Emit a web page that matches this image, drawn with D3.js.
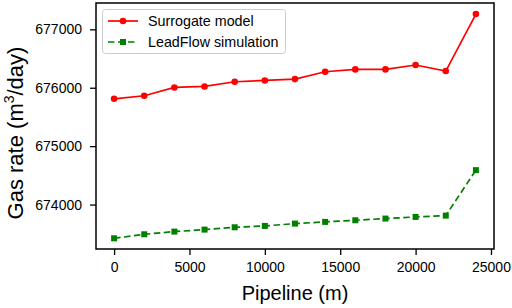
<!DOCTYPE html>
<html><head><meta charset="utf-8">
<script src="https://cdn.jsdelivr.net/npm/d3@7"></script>
<style>body{margin:0;background:#fff}svg{display:block}text{font-family:"Liberation Sans",Arial,sans-serif}</style>
</head><body><svg id="c" width="512" height="308"></svg>
<script>
const pipeline = [0,2000,4000,6000,8000,10000,12000,14000,16000,18000,20000,22000,24000];
const surrogate = [675811,675863,676005,676022,676103,676125,676148,676274,676314,676314,676389,676286,677262];
const leadflow = [673422,673491,673537,673571,673611,673634,673674,673703,673731,673760,673788,673811,674589];
const xTicks = [0,5000,10000,15000,20000,25000];
const yTicks = [674000,675000,676000,677000];
const seriesNames = ["Surrogate model","LeadFlow simulation"];

const svg = d3.select("#c");
const L=96, R=494, T=3, B=249;
const x = d3.scaleLinear().domain([-1200,25200]).range([L,R]);
const y = d3.scaleLinear().domain([673239,677451]).range([B,T]);

const xa = svg.append("g").attr("transform",`translate(0,${B})`)
  .call(d3.axisBottom(x).tickValues(xTicks).tickFormat(d3.format("d")).tickSize(6).tickPadding(7).tickSizeOuter(0));
const ya = svg.append("g").attr("transform",`translate(${L},0)`)
  .call(d3.axisLeft(y).tickValues(yTicks).tickFormat(d3.format("d")).tickSize(6).tickPadding(8).tickSizeOuter(0));
[xa,ya].forEach(a=>{a.select(".domain").remove();a.selectAll("line").attr("stroke","#000").attr("stroke-width",1.3);
  a.selectAll("text").attr("font-size",14).attr("fill","#000").attr("font-family","'Liberation Sans',Arial,sans-serif");});

svg.append("rect").attr("x",L).attr("y",T).attr("width",R-L).attr("height",B-T)
  .attr("fill","none").attr("stroke","#000").attr("stroke-width",1.5);

const line = d3.line().x((d,i)=>x(pipeline[i])).y(d=>y(d));
svg.append("path").datum(surrogate).attr("d",line).attr("fill","none").attr("stroke","#ff0000").attr("stroke-width",1.7);
svg.selectAll(".c1").data(surrogate).enter().append("circle")
  .attr("cx",(d,i)=>x(pipeline[i])).attr("cy",d=>y(d)).attr("r",3.3).attr("fill","#ff0000");
svg.append("path").datum(leadflow).attr("d",line).attr("fill","none").attr("stroke","#008000").attr("stroke-width",1.7).attr("stroke-dasharray","6.5,3.5");
svg.selectAll(".s1").data(leadflow).enter().append("rect")
  .attr("x",(d,i)=>x(pipeline[i])-3).attr("y",d=>y(d)-3).attr("width",6).attr("height",6).attr("fill","#008000");

// legend
const lg = svg.append("g");
lg.append("rect").attr("x",102.5).attr("y",9.5).attr("width",183).attr("height",44).attr("rx",3)
  .attr("fill","#fff").attr("fill-opacity",0.8).attr("stroke","#ccc").attr("stroke-width",1);
lg.append("line").attr("x1",108).attr("x2",138).attr("y1",21).attr("y2",21).attr("stroke","#ff0000").attr("stroke-width",1.7);
lg.append("circle").attr("cx",123).attr("cy",21).attr("r",3.3).attr("fill","#ff0000");
lg.append("line").attr("x1",108).attr("x2",138).attr("y1",42).attr("y2",42).attr("stroke","#008000").attr("stroke-width",1.7).attr("stroke-dasharray","6.5,3.5");
lg.append("rect").attr("x",120).attr("y",39).attr("width",6).attr("height",6).attr("fill","#008000");
seriesNames.forEach((n,i)=>lg.append("text").attr("x",148).attr("y",21+21*i).attr("dy","0.35em")
  .attr("font-size",14.3).attr("fill","#000").text(n));

// axis labels
svg.append("text").attr("x",(L+R)/2).attr("y",300).attr("text-anchor","middle").attr("font-size",20).attr("fill","#000").text("Pipeline (m)");
const yl = svg.append("text").attr("transform",`translate(23,133) rotate(-90)`).attr("text-anchor","middle").attr("font-size",22).attr("fill","#000");
yl.append("tspan").text("Gas rate (m");
yl.append("tspan").attr("font-size",14).attr("dy",-9).text("3");
yl.append("tspan").attr("dy",9).text("/day)");
</script></body></html>
